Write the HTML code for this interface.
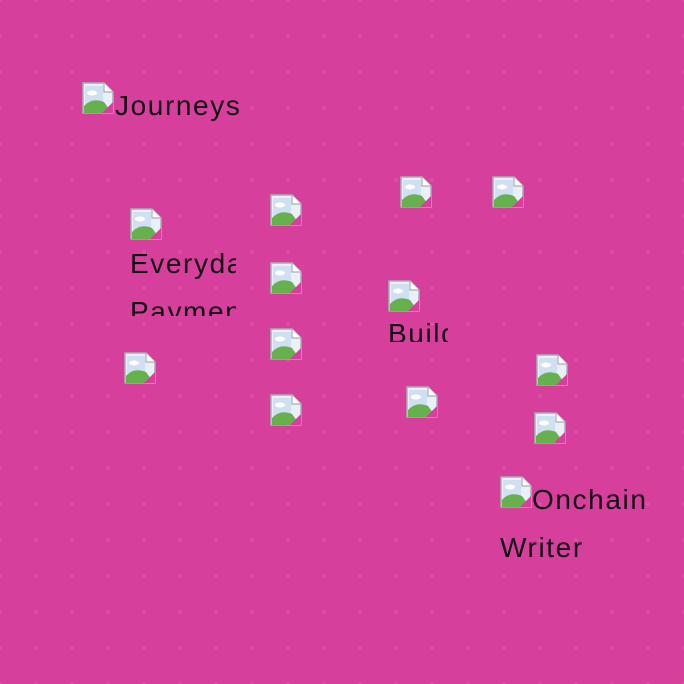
<!DOCTYPE html>
<html><head><meta charset="utf-8"><style>
html,body{margin:0;padding:0}
body{width:684px;height:684px;overflow:hidden;position:relative;background-color:#d63f9c;
background-image:radial-gradient(circle,rgba(255,255,255,0.09) 1.8px,transparent 2.4px);
background-size:36px 36px;background-position:-18px -18px;
font-family:"Liberation Sans",Roboto,sans-serif;color:#111;}
.i{position:absolute;width:32px;height:32px}
.t{position:absolute;font-size:28px;letter-spacing:1.6px;line-height:48px;white-space:nowrap;overflow:hidden}
</style></head><body>
<svg width="0" height="0" style="position:absolute"><defs>
<symbol id="b" viewBox="0 0 32 32">
<path d="M1 1H22L31 10V31H1Z" fill="#eaf0f8" stroke="#a8aeb4" stroke-width="1.5"/>
<path d="M22 1V10H31" fill="#fff" stroke="#a8aeb4" stroke-width="1.2"/>
<rect x="3" y="4" width="18" height="20" fill="#cfe0f2"/>
<ellipse cx="10" cy="11" rx="5" ry="2.5" fill="#fff"/>
<path d="M2 31V24Q10 15 22 20L30 31Z" fill="#66b04e"/>
<path d="M20 31L31 20V31Z" fill="#d63f9c"/>
</symbol></defs></svg>
<svg class="i" style="left:82px;top:82px"><use href="#b"/></svg>
<svg class="i" style="left:130px;top:208px"><use href="#b"/></svg>
<svg class="i" style="left:270px;top:194px"><use href="#b"/></svg>
<svg class="i" style="left:270px;top:262px"><use href="#b"/></svg>
<svg class="i" style="left:270px;top:328px"><use href="#b"/></svg>
<svg class="i" style="left:270px;top:394px"><use href="#b"/></svg>
<svg class="i" style="left:124px;top:352px"><use href="#b"/></svg>
<svg class="i" style="left:400px;top:176px"><use href="#b"/></svg>
<svg class="i" style="left:492px;top:176px"><use href="#b"/></svg>
<svg class="i" style="left:388px;top:280px"><use href="#b"/></svg>
<svg class="i" style="left:406px;top:386px"><use href="#b"/></svg>
<svg class="i" style="left:536px;top:354px"><use href="#b"/></svg>
<svg class="i" style="left:534px;top:412px"><use href="#b"/></svg>
<svg class="i" style="left:500px;top:476px"><use href="#b"/></svg>
<div class="t" style="left:115px;top:82px">Journeys</div>
<div class="t" style="left:130px;top:240px;width:106px;height:76px">Everyday<br>Payments</div>
<div class="t" style="left:388px;top:310px;width:60px;height:32px">Build</div>
<div class="t" style="left:532px;top:476px">Onchain</div>
<div class="t" style="left:500px;top:524px">Writer</div>
</body></html>
